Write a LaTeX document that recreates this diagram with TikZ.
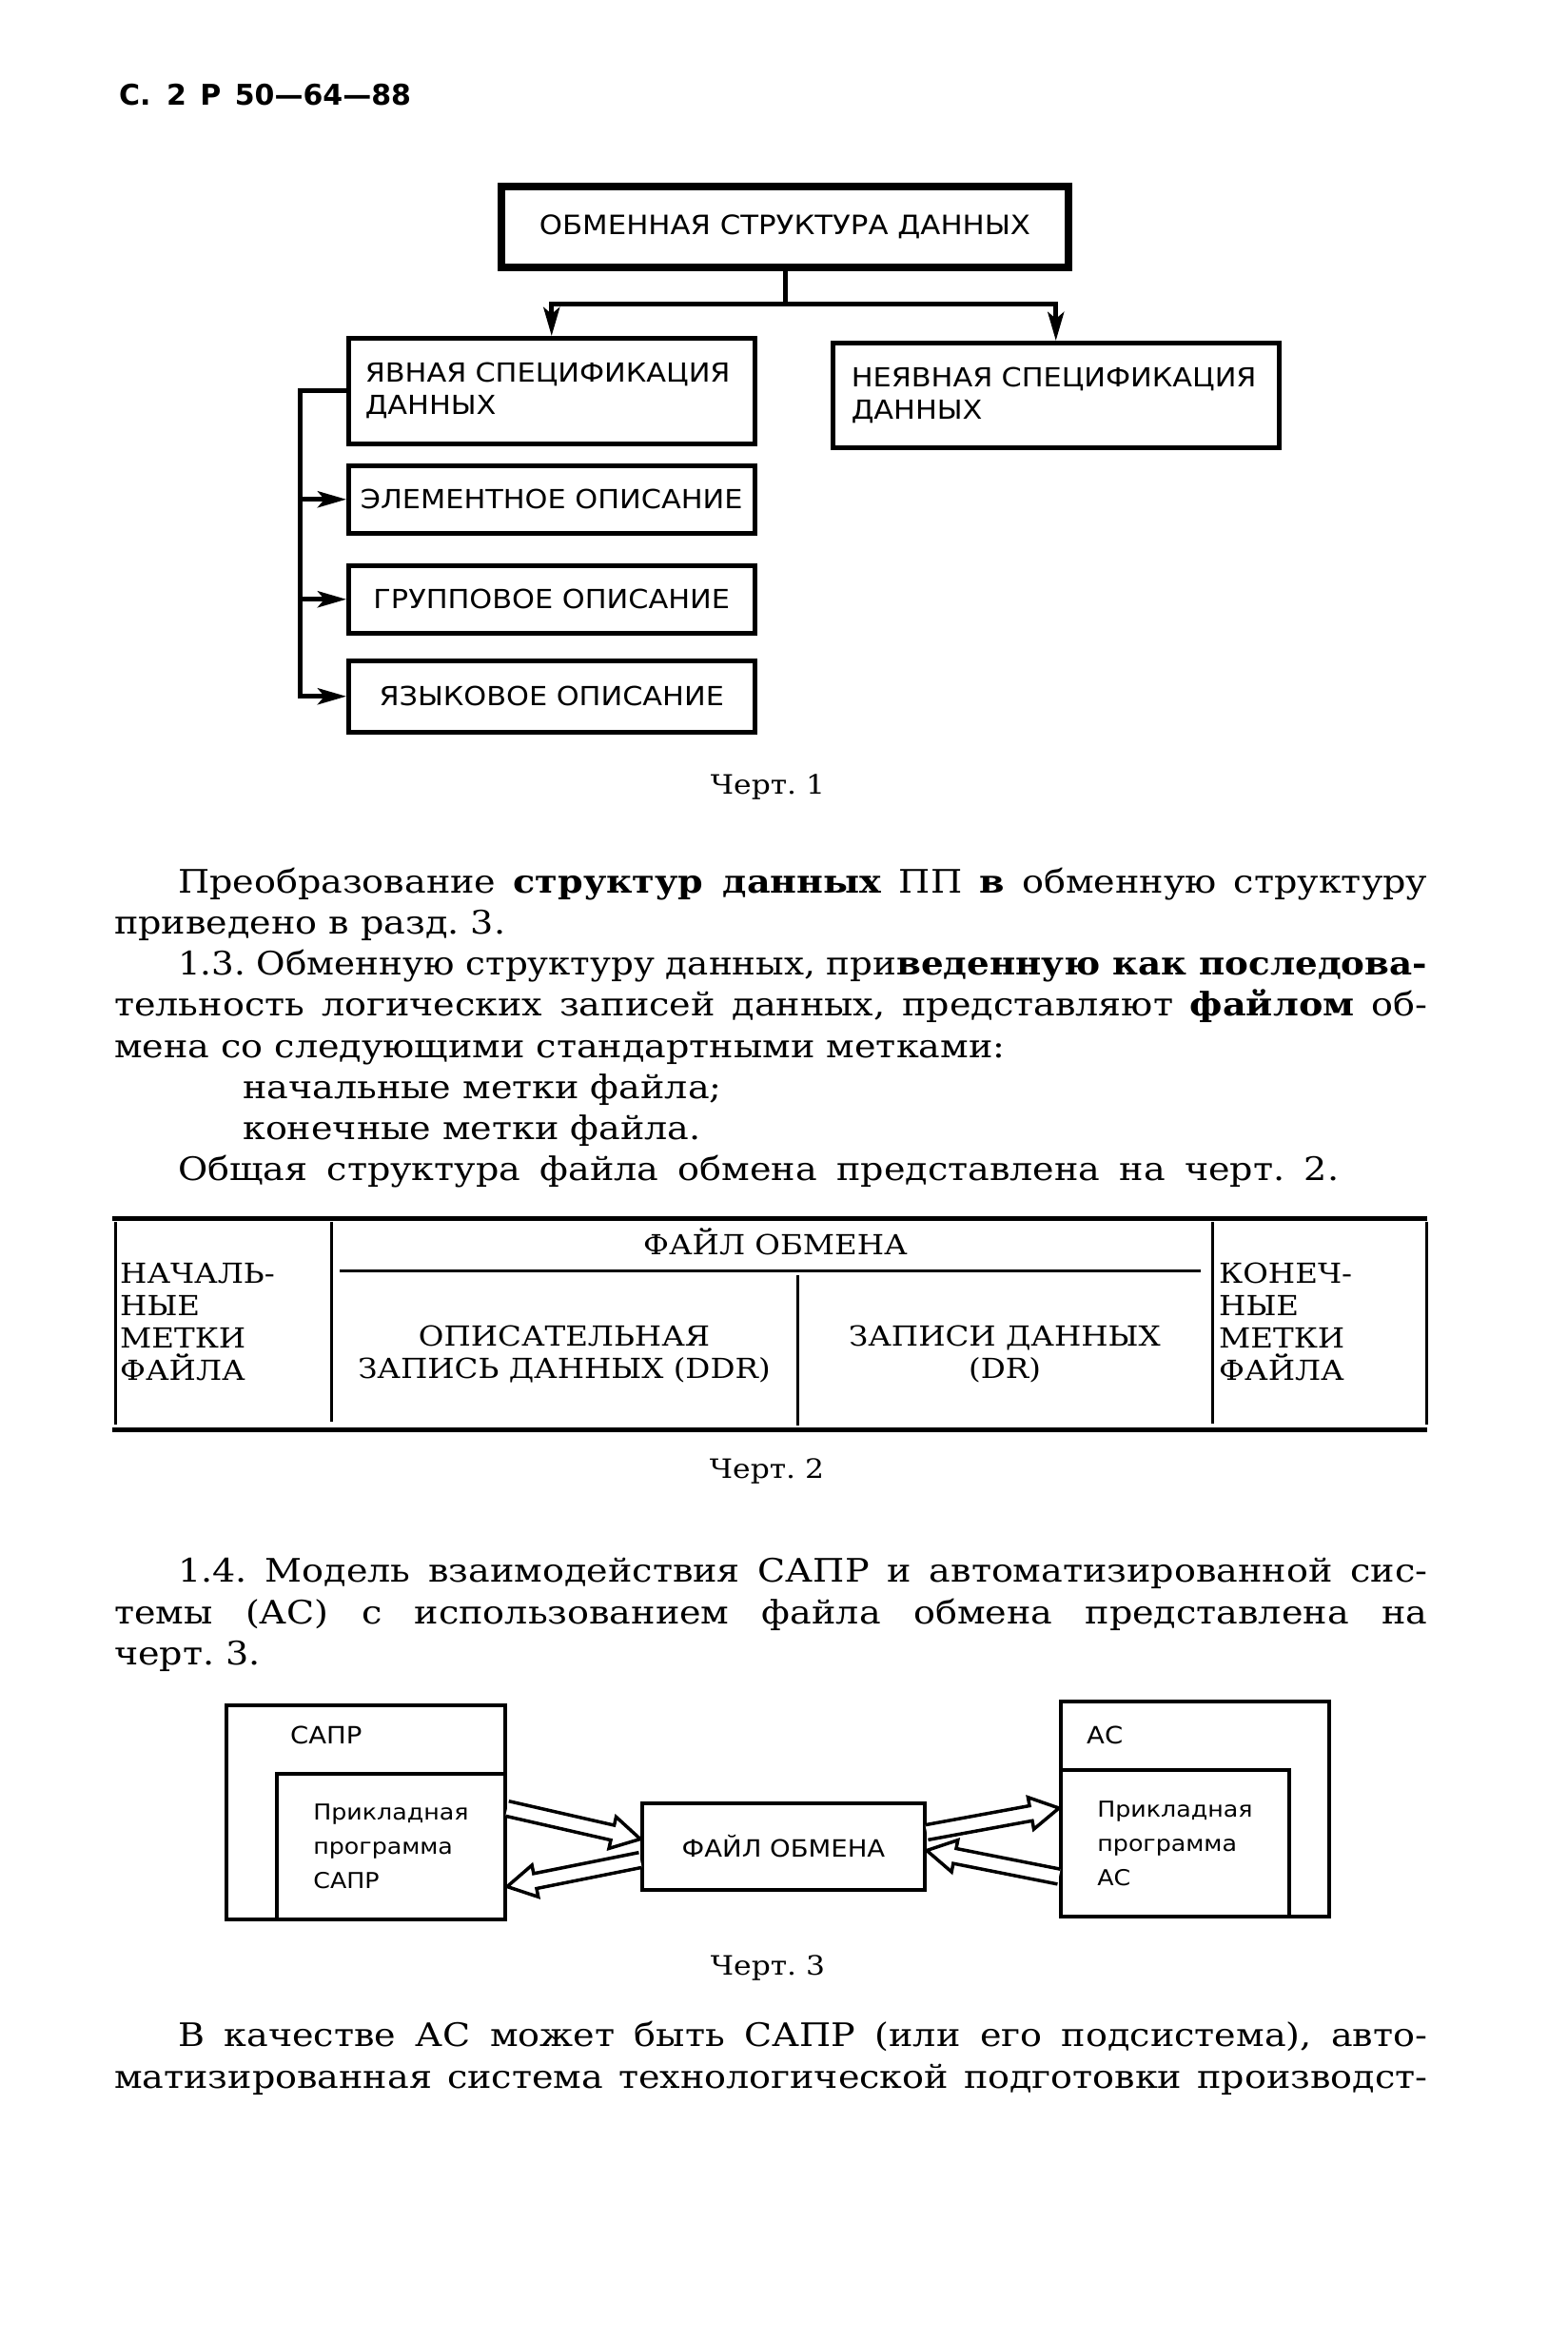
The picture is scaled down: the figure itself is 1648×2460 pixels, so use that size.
\documentclass[tikz,border=0pt]{standalone}
\usepackage{fontspec}
\usepackage{graphicx}
\usetikzlibrary{arrows.meta,calc}
\newfontfamily\bodyf[FakeStretch=1.12]{DejaVu Serif}
\newfontfamily\sansf[FakeStretch=1.1]{DejaVu Sans}
\newfontfamily\hdrf{DejaVu Sans}
\frenchspacing
\newsavebox\jbox
\newcommand\jline[2]{\sbox\jbox{#2}\ifdim\wd\jbox>#1\relax\resizebox{#1}{\height}{\usebox\jbox}\else\makebox[#1][s]{#2}\fi}
\newcommand\harrow[3]{%
  \coordinate (#3) at ($(#2)!30pt!(#1)$);
  \draw[hollowarrow] ($(#1)!8pt!90:(#2)$) -- ($(#3)!8pt!90:(#2)$) -- ($(#3)!17pt!90:(#2)$) -- (#2)
     -- ($(#3)!17pt!-90:(#2)$) -- ($(#3)!8pt!-90:(#2)$) -- ($(#1)!8pt!-90:(#2)$);}
\tikzset{
  body/.style={inner sep=0pt, anchor=base west, font=\bodyf\frenchspacing\fontsize{34}{40}\selectfont},
  capt/.style={inner sep=0pt, anchor=base, font=\bodyf\frenchspacing\fontsize{28}{34}\selectfont},
  tab/.style={inner sep=0pt, font=\bodyf\fontsize{29}{34}\selectfont},
  box/.style={draw, line width=4.5pt, inner sep=0pt, font=\sansf\fontsize{27.6}{34}\selectfont},
  conn/.style={line width=5pt, -{Stealth[length=30pt, width=17pt, inset=7pt]}},
  wire/.style={line width=5pt},
  rule/.style={line width=5pt},
  vrule/.style={line width=3pt},
  c3box/.style={draw, line width=4pt, inner sep=0pt},
  c3txt/.style={font=\sansf\fontsize{23}{36}\selectfont, align=left},
  c3lbl/.style={inner sep=0pt, anchor=base west, font=\sansf\fontsize{25}{30}\selectfont},
  hollowarrow/.style={line width=3.5pt, fill=white, line join=miter}
}
\begin{document}
\begin{tikzpicture}[x=1pt, y=-1pt]
\useasboundingbox (0,0) rectangle (1648,2460);
\fill[white] (0,0) rectangle (1648,2460);

% header
\node[inner sep=0pt, anchor=base west, font=\hdrf\bfseries\fontsize{30}{36}\selectfont] (hdr) at (125,110) {С.\hspace{6pt} 2\hspace{4pt} Р\hspace{4pt} 50—64—88};

% ---------- Chart 1 ----------
\node[box, line width=8pt, minimum width=596pt, minimum height=85pt, anchor=north west, font=\sansf\fontsize{28}{34}\selectfont] (top) at (523,192) {ОБМЕННАЯ СТРУКТУРА ДАННЫХ};
\node[box, minimum width=427pt, minimum height=111pt, anchor=north west, text width=392pt, align=left] (yavn) at (364,353) {ЯВНАЯ СПЕЦИФИКАЦИЯ\\ДАННЫХ};
\node[box, minimum width=469pt, minimum height=110pt, anchor=north west, text width=430pt, align=left] (neyavn) at (873,358) {НЕЯВНАЯ СПЕЦИФИКАЦИЯ\\ДАННЫХ};
\node[box, minimum width=427pt, minimum height=71pt, anchor=north west] (elem) at (364,487) {ЭЛЕМЕНТНОЕ ОПИСАНИЕ};
\node[box, minimum width=427pt, minimum height=71pt, anchor=north west] (grup) at (364,592) {ГРУППОВОЕ ОПИСАНИЕ};
\node[box, minimum width=427pt, minimum height=75pt, anchor=north west] (yazyk) at (364,692) {ЯЗЫКОВОЕ ОПИСАНИЕ};

\coordinate (split) at ($(top.south)+(0,34)$);
\draw[wire] (top.south) -- (split);
\draw[conn] (split) -| (yavn.north);
\draw[conn] (split) -| (neyavn.north);
\coordinate (bus) at ($(yavn.west)+(-49,0)$);
\draw[conn] (yavn.west) -- (bus) |- (yazyk.west);
\draw[conn] (bus |- elem.west) -- (elem.west);
\draw[conn] (bus |- grup.west) -- (grup.west);

\node[capt] (ch1) at (807,834) {Черт. 1};

% ---------- Text ----------
\node[body] (p1) at (187,938) {\jline{1313pt}{Преобразование \textbf{структур данных} ПП \textbf{в} обменную структуру}};
\node[body] (p2) at (120,981) {приведено в разд. 3.};
\node[body] (p3) at (187,1024) {\jline{1313pt}{1.3. Обменную структуру данных, при\textbf{веденную как последова-}}};
\node[body] (p4) at (120,1067) {\jline{1380pt}{тельность логических записей данных, представляют \textbf{файлом} об-}};
\node[body] (p5) at (120,1111) {мена со следующими стандартными метками:};
\node[body] (p6) at (255,1154) {начальные метки файла;};
\node[body] (p7) at (255,1197) {конечные метки файла.};
\node[body] (p8) at (187,1240) {\jline{1220pt}{Общая структура файла обмена представлена на черт. 2.}};

% ---------- Chart 2 (table) ----------
\draw[rule] (118,1280) -- (1500,1280);
\draw[rule] (118,1502) -- (1500,1502);
\draw[vrule] (121,1284) -- (121,1497);
\draw[vrule] (348,1284) -- (348,1494);
\draw[vrule] (1274,1284) -- (1274,1496);
\draw[vrule] (1499,1284) -- (1499,1497);
\draw[vrule] (357,1335) -- (1262,1335);
\draw[vrule] (838,1340) -- (838,1498);

\node[tab, anchor=base] (fo) at (815,1318) {ФАЙЛ ОБМЕНА};
\foreach \t [count=\i] in {НАЧАЛЬ-,НЫЕ,МЕТКИ,ФАЙЛА}
  \node[tab, anchor=base west] (nm\i) at (126,1314+34*\i) {\t};
\foreach \t [count=\i] in {КОНЕЧ-,НЫЕ,МЕТКИ,ФАЙЛА}
  \node[tab, anchor=base west] (km\i) at (1281,1314+34*\i) {\t};
\node[tab, anchor=base] (ddr1) at (593,1414) {ОПИСАТЕЛЬНАЯ};
\node[tab, anchor=base] (ddr2) at (593,1448) {ЗАПИСЬ ДАННЫХ (DDR)};
\node[tab, anchor=base] (dr1) at (1056,1414) {ЗАПИСИ ДАННЫХ};
\node[tab, anchor=base] (dr2) at (1056,1448) {(DR)};

\node[capt] (ch2) at (806,1553) {Черт. 2};

\node[body] (q1) at (187,1662) {\jline{1313pt}{1.4. Модель взаимодействия САПР и автоматизированной сис-}};
\node[body] (q2) at (120,1706) {\jline{1380pt}{темы (АС) с использованием файла обмена представлена на}};
\node[body] (q3) at (120,1749) {черт. 3.};

% ---------- Chart 3 ----------
\node[c3box, minimum width=293pt, minimum height=225pt, anchor=north west] (sapr) at (236,1790) {};
\node[c3box, c3txt, minimum width=240pt, minimum height=153pt, anchor=north west] (saprin) at (289,1862) {Прикладная\\программа\\САПР};
\node[c3lbl] (saprL) at (305,1832) {САПР};
\node[c3box, minimum width=297pt, minimum height=91pt, anchor=north west, font=\sansf\fontsize{25}{30}\selectfont] (file) at (673,1893) {ФАЙЛ ОБМЕНА};
\node[c3box, minimum width=282pt, minimum height=226pt, anchor=north west] (as) at (1113,1786) {};
\node[c3box, c3txt, minimum width=240pt, minimum height=154pt, anchor=north west] (asin) at (1113,1858) {Прикладная\\программа\\АС};
\node[c3lbl] (asL) at (1142,1832) {АС};

\coordinate (a1s) at ($(saprin.east)+(0,-40)$);
\coordinate (a1t) at ($(file.west)+(0,-8)$);
\coordinate (a2s) at ($(file.west)+(0,14)$);
\coordinate (a2t) at ($(saprin.east)+(0,42)$);
\coordinate (a3s) at ($(file.east)+(0,-15)$);
\coordinate (a3t) at ($(asin.west)+(0,-37)$);
\coordinate (a4s) at ($(asin.west)+(0,35)$);
\coordinate (a4t) at ($(file.east)+(0,4)$);
\harrow{a1s}{a1t}{a1h}
\harrow{a2s}{a2t}{a2h}
\harrow{a4s}{a4t}{a4h}
\harrow{a3s}{a3t}{a3h}

\node[capt] (ch3) at (807,2075) {Черт. 3};

\node[body] (r1) at (187,2150) {\jline{1313pt}{В качестве АС может быть САПР (или его подсистема), авто-}};
\node[body] (r2) at (120,2194) {\jline{1380pt}{матизированная система технологической подготовки производст-}};
\end{tikzpicture}
\end{document}
